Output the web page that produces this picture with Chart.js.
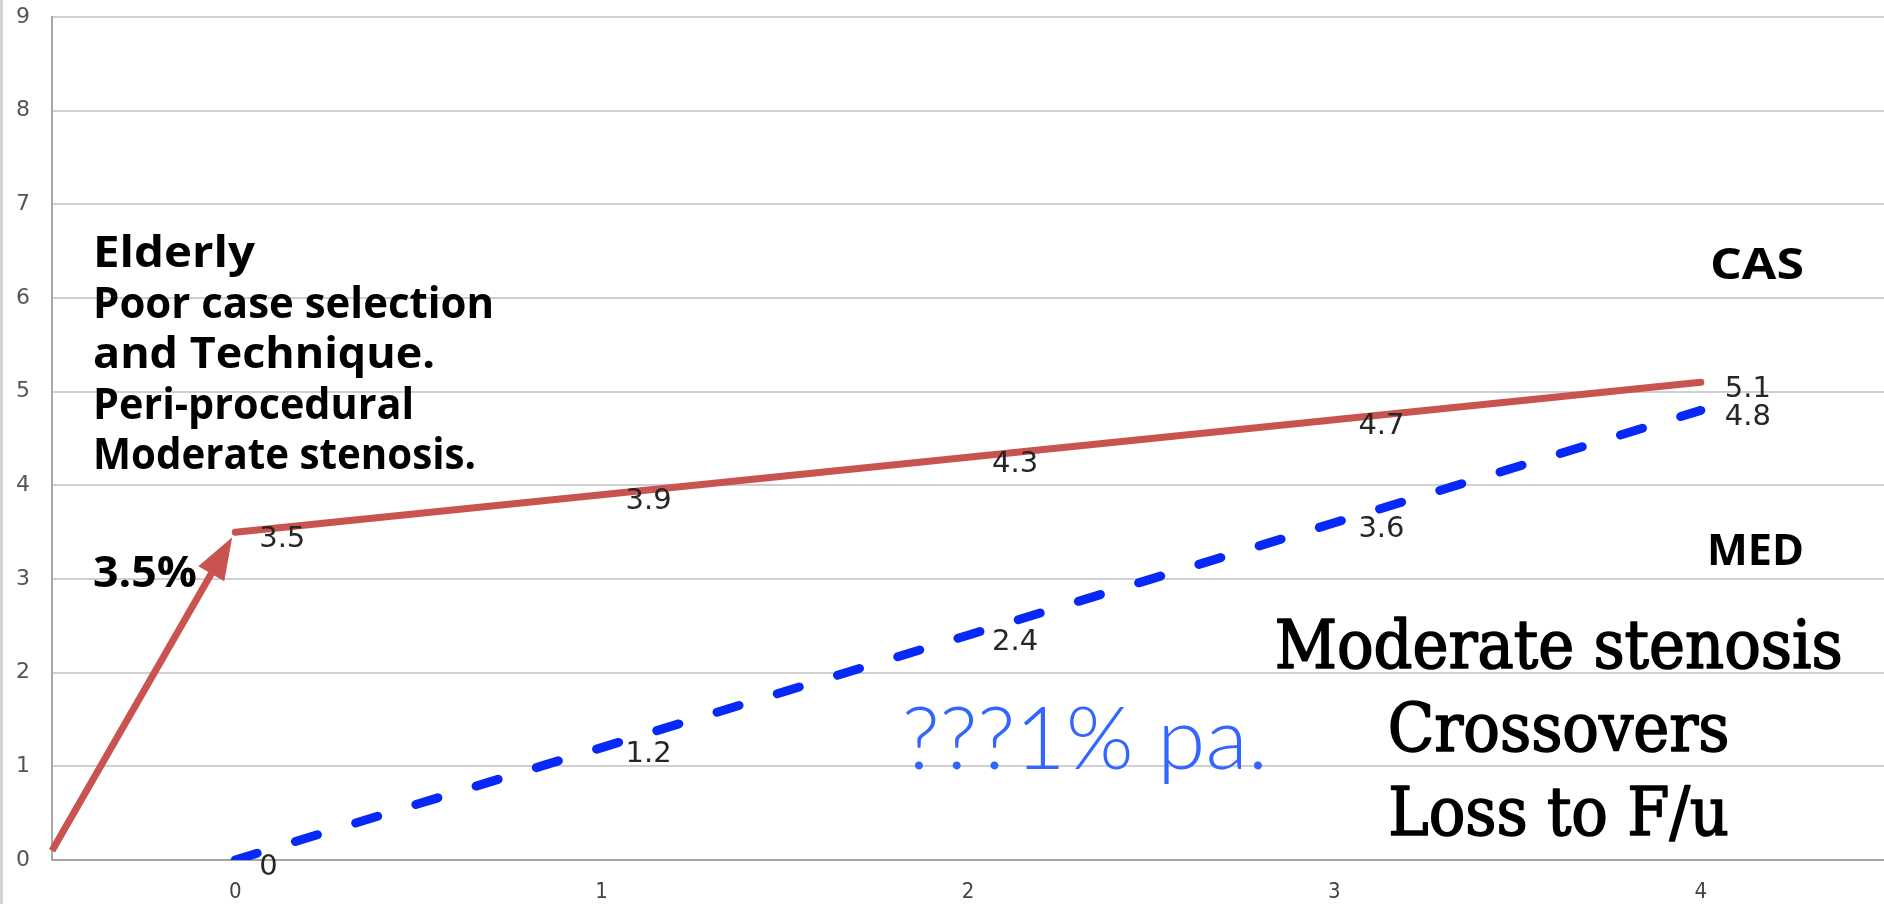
<!DOCTYPE html>
<html><head><meta charset="utf-8">
<script src="https://cdn.jsdelivr.net/npm/chart.js@4.4.1/dist/chart.umd.min.js"></script>
<style>html,body{margin:0;padding:0;background:#fff;overflow:hidden}
#wrap{position:relative;width:1884px;height:904px}</style>
</head><body><div id="wrap"><canvas id="c" width="1884" height="904"></canvas></div>
<script>
const years = [0, 1, 2, 3, 4];
const casValues = [3.5, 3.9, 4.3, 4.7, 5.1];
const medValues = [0, 1.2, 2.4, 3.6, 4.8];
const yTicks = [0, 1, 2, 3, 4, 5, 6, 7, 8, 9];
const xTicks = [0, 1, 2, 3, 4];
const arrowX = [-0.5, 0];
const arrowY = [0.1, 3.5];
const riskNotes = ['Elderly', 'Poor case selection', 'and Technique.', 'Peri-procedural', 'Moderate stenosis.'];
const riskPct = '3.5%';
const casLabel = 'CAS';
const medLabel = 'MED';
const medNotes = ['Moderate stenosis', 'Crossovers', 'Loss to F/u'];
const rateNote = '???1% pa.';

const RED = '#c9534f';
const BLUE = '#0628f8';

Chart.defaults.font.family = '"DejaVu Sans", sans-serif';
Chart.defaults.font.size = 20;

function fitSize(ctx, text, weight, family, target) {
  ctx.font = weight + ' 100px ' + family;
  return 100 * target / ctx.measureText(text).width;
}
function drawWide(ctx, text, x, y, target) {
  const w = ctx.measureText(text).width;
  const k = target / w;
  ctx.save();
  ctx.translate(x, y);
  ctx.scale(k, 1);
  ctx.fillText(text, 0, 0);
  ctx.restore();
}

const overlay = {
  id: 'overlay',
  beforeDraw(chart) {
    const ctx = chart.ctx;
    ctx.save();
    ctx.fillStyle = '#d4d4d4';
    ctx.fillRect(0, 0, 3, chart.height);
    ctx.restore();
  },
  afterDatasetsDraw(chart) {
    const ctx = chart.ctx;
    const xs = chart.scales.x, ys = chart.scales.y;
    const X = v => xs.getPixelForValue(v), Y = v => ys.getPixelForValue(v);
    ctx.save();
    // value labels
    ctx.font = '29px "DejaVu Sans"';
    ctx.fillStyle = '#262626';
    ctx.textAlign = 'left';
    ctx.textBaseline = 'middle';
    chart.data.datasets.forEach((ds, di) => {
      chart.getDatasetMeta(di).data.forEach((pt, i) => {
        ctx.fillText(String(ds.data[i].y), pt.x + 24, pt.y + 7);
      });
    });
    // arrow
    const x0 = X(arrowX[0]), y0 = Y(arrowY[0]), x1 = X(arrowX[1]), y1 = Y(arrowY[1]);
    const dx = x1 - x0, dy = y1 - y0, L = Math.hypot(dx, dy);
    const ux = dx / L, uy = dy / L;
    const tx = x1 - ux * 6, ty = y1 - uy * 6;
    const hl = 42, hw = 15;
    const bx = tx - ux * hl, by = ty - uy * hl;
    ctx.strokeStyle = RED; ctx.fillStyle = RED;
    ctx.lineWidth = 7; ctx.lineCap = 'butt';
    ctx.beginPath(); ctx.moveTo(x0, y0); ctx.lineTo(bx + ux * 2, by + uy * 2); ctx.stroke();
    ctx.beginPath();
    ctx.moveTo(tx, ty);
    ctx.lineTo(bx - uy * hw, by + ux * hw);
    ctx.lineTo(bx + uy * hw, by - ux * hw);
    ctx.closePath(); ctx.fill();
    // bold notes
    const bfam = '"Open Sans", "DejaVu Sans", sans-serif';
    const bs = fitSize(ctx, riskNotes[1], '700', bfam, 402);
    ctx.font = '700 ' + bs + 'px ' + bfam;
    ctx.fillStyle = '#000';
    ctx.textBaseline = 'alphabetic';
    ctx.textAlign = 'left';
    const noteW = [162, 401, 342, 321, 383];
    riskNotes.forEach((t, i) => drawWide(ctx, t, X(-0.388), Y(6.33) + i * 50.5, noteW[i]));
    drawWide(ctx, riskPct, X(-0.388), Y(2.91), 104);
    drawWide(ctx, casLabel, X(4.025), Y(6.20), 94);
    drawWide(ctx, medLabel, X(4.017), Y(3.15), 97);
    // serif notes
    const sfam = '"DejaVu Serif Condensed", "DejaVu Serif", serif';
    const ss = fitSize(ctx, medNotes[0], '400', sfam, 568);
    ctx.font = '400 ' + ss + 'px ' + sfam;
    ctx.textAlign = 'center';
    ctx.strokeStyle = '#000';
    ctx.lineWidth = 1.6;
    ctx.lineJoin = 'round';
    medNotes.forEach((t, i) => {
      ctx.fillText(t, X(3.612), Y(2.05) + i * 83.5);
      ctx.strokeText(t, X(3.612), Y(2.05) + i * 83.5);
    });
    // rate note
    const lfam = 'Lato, "Open Sans", sans-serif';
    const ls = fitSize(ctx, rateNote, '300', lfam, 366);
    ctx.font = '300 ' + ls + 'px ' + lfam;
    ctx.fillStyle = '#3366ff';
    ctx.textAlign = 'left';
    ctx.fillText(rateNote, X(1.82), Y(0.97));
    ctx.restore();
  }
};

new Chart(document.getElementById('c'), {
  type: 'line',
  data: {
    datasets: [
      {
        label: 'CAS',
        data: years.map((x, i) => ({x: x, y: casValues[i]})),
        borderColor: RED, borderWidth: 7, pointRadius: 0, tension: 0,
        borderCapStyle: 'round'
      },
      {
        label: 'MED',
        data: years.map((x, i) => ({x: x, y: medValues[i]})),
        borderColor: BLUE, borderWidth: 9, pointRadius: 0, tension: 0,
        borderDash: [23, 40], borderCapStyle: 'round'
      }
    ]
  },
  options: {
    responsive: false,
    animation: false,
    devicePixelRatio: 1,
    layout: {padding: {top: 17, right: 0, left: 0, bottom: 0}},
    plugins: {legend: {display: false}, tooltip: {enabled: false}, title: {display: false}},
    scales: {
      x: {
        type: 'linear', min: -0.5, max: 4.5,
        afterBuildTicks: s => { s.ticks = xTicks.map(v => ({value: v})); },
        afterFit: s => { s.height = 44; s.paddingLeft = 0; s.paddingRight = 0; },
        grid: {drawOnChartArea: false, drawTicks: false},
        border: {color: '#a4a4a4', width: 2},
        ticks: {font: {family: '"DejaVu Sans Condensed", sans-serif', size: 22}, color: '#444', padding: 19}
      },
      y: {
        min: 0, max: 9,
        afterBuildTicks: s => { s.ticks = yTicks.map(v => ({value: v})); },
        afterFit: s => { s.width = 52; s.paddingTop = 0; s.paddingBottom = 0; },
        grid: {color: '#d0d0d0', lineWidth: 2, drawTicks: false},
        border: {color: '#a8a8a8', width: 2},
        ticks: {font: {family: '"DejaVu Sans", sans-serif', size: 22}, color: '#555', padding: 22}
      }
    }
  },
  plugins: [overlay]
});
</script>
</body></html>
